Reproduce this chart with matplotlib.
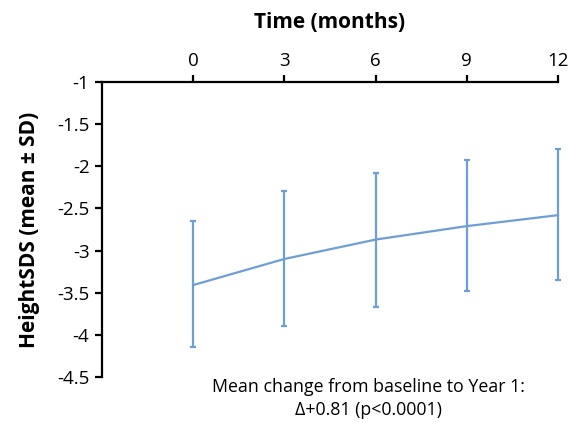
import matplotlib.pyplot as plt

# Height SDS over time (mean +/- SD)
months = [0, 3, 6, 9, 12]
mean_sds = [-3.41, -3.10, -2.87, -2.71, -2.58]
upper = [-2.645, -2.29, -2.08, -1.92, -1.795]
lower = [-4.15, -3.90, -3.67, -3.48, -3.35]

err_low = [m - lo for m, lo in zip(mean_sds, lower)]
err_high = [hi - m for m, hi in zip(mean_sds, upper)]

plt.rcParams["font.family"] = ["Open Sans", "DejaVu Sans"]

fig = plt.figure(figsize=(5.71, 4.23), dpi=100)
ax = fig.add_axes([0.1786, 0.109, 0.7986, 0.697])

color = "#6d9fd6"
lines = ax.errorbar(months, mean_sds, yerr=[err_low, err_high], color=color,
                    linewidth=1.6, elinewidth=1.6, capsize=2.5, capthick=1.6)
for artist in lines.get_children():
    artist.set_clip_on(False)

ax.set_xlim(-3, 12)
ax.set_ylim(-4.5, -1)
ax.set_xticks(months)
ax.set_yticks([-1, -1.5, -2, -2.5, -3, -3.5, -4, -4.5])
ax.set_yticklabels(["-1", "-1.5", "-2", "-2.5", "-3", "-3.5", "-4", "-4.5"])

ax.xaxis.tick_top()
ax.xaxis.set_label_position("top")
ax.spines["bottom"].set_visible(False)
ax.spines["right"].set_visible(False)
ax.spines["top"].set_linewidth(1.6)
ax.spines["left"].set_linewidth(1.6)
ax.tick_params(axis="both", direction="out", length=5, width=1.6,
               labelsize=13.5, pad=4)

ax.set_xlabel("Time (months)", fontsize=15, fontweight="bold", labelpad=17)
ax.set_ylabel("HeightSDS (mean ± SD)", fontsize=15, fontweight="bold", labelpad=12)

fig.text(0.646, 0.058, "Mean change from baseline to Year 1:\n\u0394+0.81 (p<0.0001)",
         ha="center", va="center", fontsize=12.8, linespacing=1.4)

fig.savefig("out.png", dpi=100)
